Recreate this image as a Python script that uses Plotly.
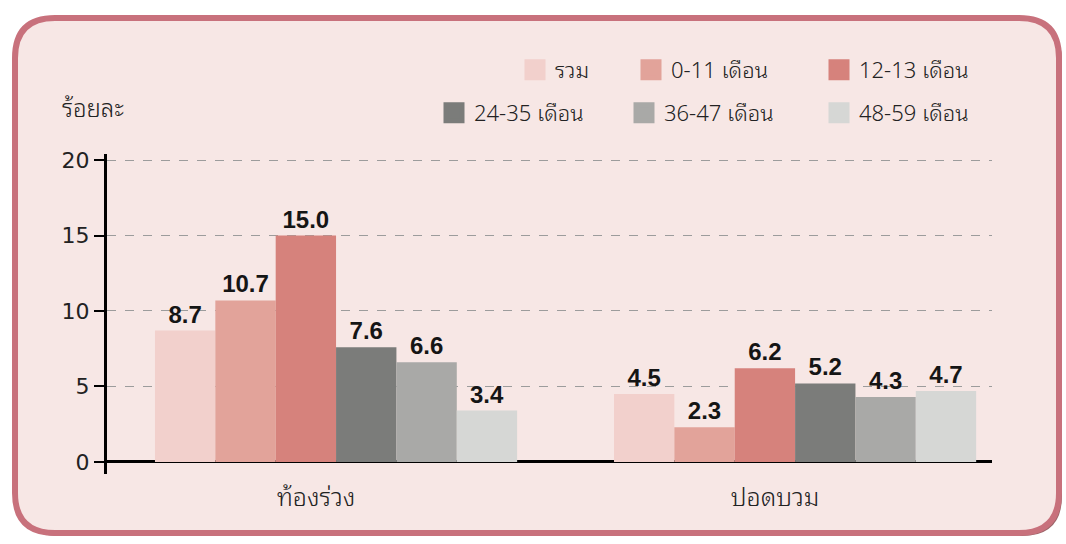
import plotly.graph_objects as go

# ---------------- data ----------------
categories = ["ท้องร่วง", "ปอดบวม"]
series_names = ["รวม", "0-11 เดือน", "12-13 เดือน", "24-35 เดือน", "36-47 เดือน", "48-59 เดือน"]
v_total = [8.7, 4.5]
v_0_11 = [10.7, 2.3]
v_12_13 = [15.0, 6.2]
v_24_35 = [7.6, 5.2]
v_36_47 = [6.6, 4.3]
v_48_59 = [3.4, 4.7]
y_ticks = [0, 5, 10, 15, 20]
y_title = "ร้อยละ"

series_values = [v_total, v_0_11, v_12_13, v_24_35, v_36_47, v_48_59]
colors = ["#f2d0cc", "#e2a39a", "#d6827c", "#7b7c7a", "#a9a9a7", "#d6d7d5"]
legend_ref = ["legend", "legend", "legend", "legend2", "legend2", "legend2"]
legend_entry_w = [71, 143, 140, 145, 150, 140]

W, H = 1066, 544
ML, MR, MT, MB = 107, 74, 154, 70
PW, PH = W - ML - MR, H - MT - MB

def px(x):
    return (x - ML) / PW

def py(y):
    return (H - MB - y) / PH

THAI = "Noto Sans Thai Looped, Noto Sans Thai, Tahoma, DejaVu Sans, sans-serif"

fig = go.Figure()

for name, vals, col in zip(series_names, series_values, colors):
    fig.add_trace(go.Bar(
        x=categories, y=vals, name=name,
        marker=dict(color=col, line=dict(width=0)),
        texttemplate="%{y:.1f}", textposition="outside",
        textfont=dict(family="Liberation Sans, Arial, sans-serif", size=24, color="#151515", weight="bold"),
        cliponaxis=False, showlegend=False,
    ))

# legend entries (big square swatches)
for name, col, lg, lw in zip(series_names, colors, legend_ref, legend_entry_w):
    fig.add_trace(go.Scatter(
        x=[None], y=[None], mode="markers", name=name, legend=lg, legendwidth=lw,
        marker=dict(symbol="square", size=16, color=col, line=dict(width=5, color=col)),
        showlegend=True,
    ))

def rounded_rect(L, T, R, B, r):
    pts = [
        ("M", (L + r, T)), ("L", (R - r, T)), ("Q", (R, T), (R, T + r)),
        ("L", (R, B - r)), ("Q", (R, B), (R - r, B)), ("L", (L + r, B)),
        ("Q", (L, B), (L, B - r)), ("L", (L, T + r)), ("Q", (L, T), (L + r, T)),
    ]
    s = ""
    for p in pts:
        cmd = p[0]
        coords = " ".join(f"{px(a):.5f},{py(b):.5f}" for a, b in p[1:])
        s += f"{cmd}{coords} "
    return s + "Z"

shapes = [
    dict(type="path", xref="paper", yref="paper", layer="below",
         path=rounded_rect(18, 21, 1062, 536, 40),
         fillcolor="#9b6468", line=dict(width=0)),
    dict(type="path", xref="paper", yref="paper", layer="below",
         path=rounded_rect(15, 18, 1059, 533, 40),
         fillcolor="#f7e7e5", line=dict(color="#c8717c", width=6)),
]

legend_common = dict(orientation="h", xanchor="left", yanchor="middle",
                     bgcolor="rgba(0,0,0,0)", borderwidth=0,
                     font=dict(family=THAI, size=22, color="#222222", weight=300), itemclick=False)

fig.update_layout(
    width=W, height=H,
    margin=dict(l=ML, r=MR, t=MT, b=MB, pad=0),
    paper_bgcolor="white", plot_bgcolor="rgba(0,0,0,0)",
    barmode="group", bargap=0.211, bargroupgap=0,
    font=dict(family=THAI, size=20, color="#222222"),
    shapes=shapes,
    legend=dict(x=px(515), y=py(70), **legend_common),
    legend2=dict(x=px(434), y=py(113), **legend_common),
    annotations=[dict(text=y_title, xref="paper", yref="paper", x=px(60), y=py(106),
                      xanchor="left", yanchor="middle", showarrow=False,
                      font=dict(family=THAI, size=24, color="#222222", weight=300))],
    xaxis=dict(type="category", range=[-0.499, 1.429], showline=False, showgrid=False,
               ticks="", zeroline=False, ticklabelshift=-20, ticklabelstandoff=6,
               tickfont=dict(family=THAI, size=25, color="#222222", weight=300)),
    yaxis=dict(range=[-0.8, 20.4], tickvals=y_ticks, showline=True, linewidth=3, linecolor="black",
               ticks="outside", ticklen=10, tickwidth=2, tickcolor="black",
               showgrid=True, gridcolor="#9c9c9c", griddash="dash", gridwidth=1,
               zeroline=True, zerolinecolor="black", zerolinewidth=3,
               tickfont=dict(family="DejaVu Sans, sans-serif", size=22, color="#222222")),
)

fig.write_html("out.html")
